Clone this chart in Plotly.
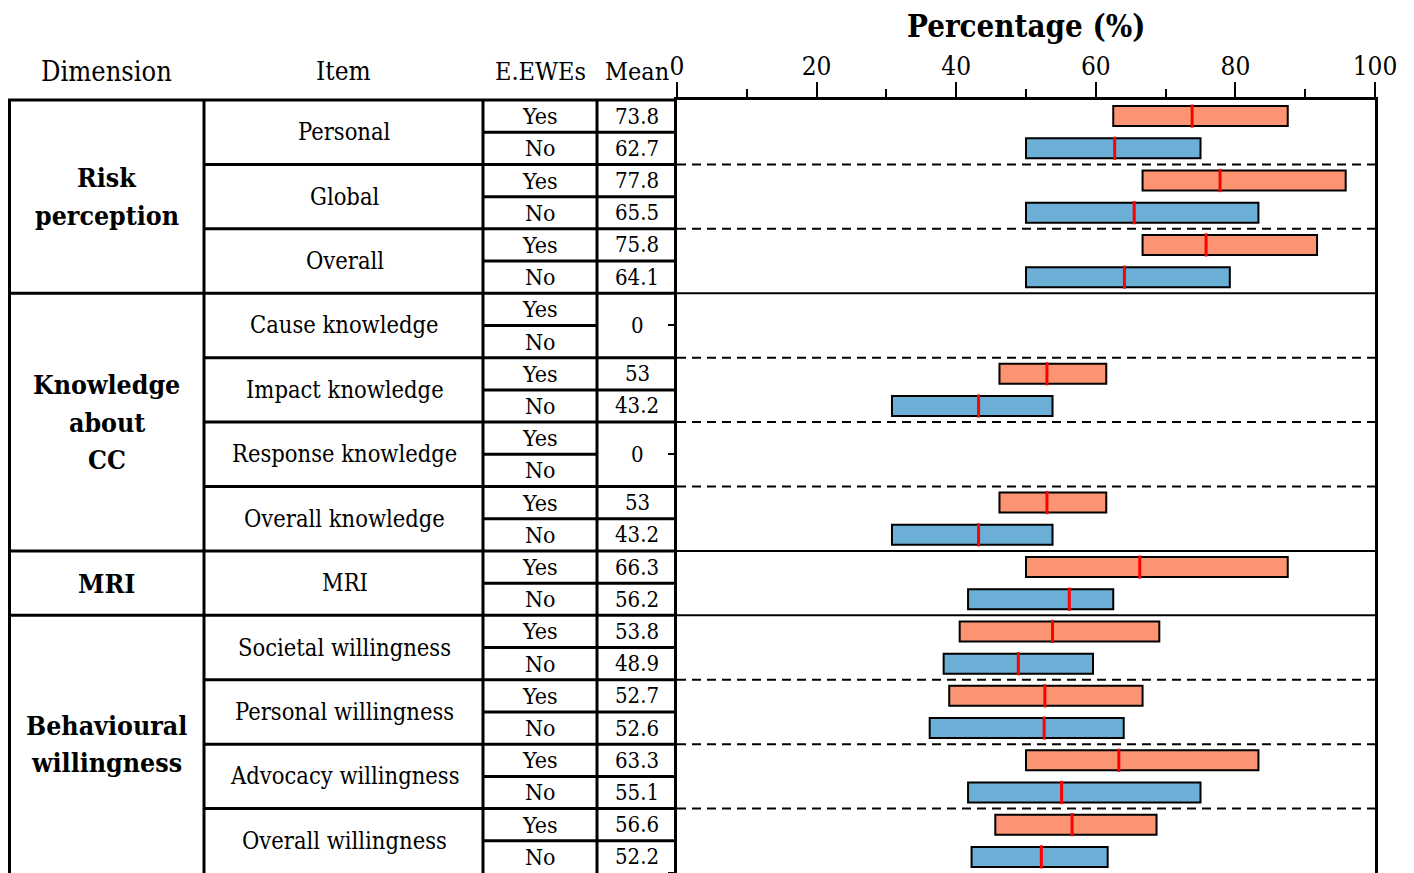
import plotly.graph_objects as go

# ---------------- data ----------------
dimensions = [["Risk", "perception"], ["Knowledge", "about", "CC"], ["MRI"], ["Behavioural", "willingness"]]
dimension_sizes = [3, 4, 1, 4]
items = ["Personal", "Global", "Overall", "Cause knowledge", "Impact knowledge",
         "Response knowledge", "Overall knowledge", "MRI", "Societal willingness",
         "Personal willingness", "Advocacy willingness", "Overall willingness"]
groups = ["Yes", "No"]
mean_yes = [73.8, 77.8, 75.8, 0, 53, 0, 53, 66.3, 53.8, 52.7, 63.3, 56.6]
mean_no = [62.7, 65.5, 64.1, 0, 43.2, 0, 43.2, 56.2, 48.9, 52.6, 55.1, 52.2]
low_yes = [62.5, 66.7, 66.7, None, 46.2, None, 46.2, 50.0, 40.5, 39.0, 50.0, 45.6]
high_yes = [87.5, 95.8, 91.7, None, 61.5, None, 61.5, 87.5, 69.1, 66.7, 83.3, 68.7]
low_no = [50.0, 50.0, 50.0, None, 30.8, None, 30.8, 41.7, 38.2, 36.2, 41.7, 42.2]
high_no = [75.0, 83.3, 79.2, None, 53.8, None, 53.8, 62.5, 59.6, 64.0, 75.0, 61.7]
x_ticks = [0, 20, 40, 60, 80, 100]
headers = ["Dimension", "Item", "E.EWEs", "Mean"]

# ---------------- geometry (page pixels; page has an 8px body margin) ----------------
OFF = 8
W, H = 1414 - OFF, 873 - OFF
TOP = 100
X_LEFT, X_DIM, X_ITEM, X_GRP, X_MEAN, X_RIGHT = 9.5, 204, 483, 597, 677, 1375
FONT = "DejaVu Serif Condensed, Liberation Serif, serif"
n_rows = 2 * len(items)
ROW_PX = (873 - TOP) / n_rows

def px(x):
    return (x - OFF) / W

def py(y):
    return 1 - (y - OFF) / H

YES_C = "#FC9473"
NO_C = "#6BAED6"

fig = go.Figure()

# boxes
for vals_lo, vals_hi, row_off, col in [(low_yes, high_yes, 0, YES_C), (low_no, high_no, 1, NO_C)]:
    ys, bases, lens = [], [], []
    for i, (lo, hi) in enumerate(zip(vals_lo, vals_hi)):
        if lo is None:
            continue
        ys.append(2 * i + row_off)
        bases.append(lo)
        lens.append(hi - lo)
    fig.add_trace(go.Bar(y=ys, x=lens, base=bases, orientation="h", width=0.62,
                         marker=dict(color=col, line=dict(color="black", width=2)),
                         showlegend=False, hoverinfo="skip"))

# mean markers
mx, my = [], []
for i in range(len(items)):
    for off, m in [(0, mean_yes[i]), (1, mean_no[i])]:
        if m == 0:
            continue
        r = 2 * i + off
        mx += [m, m, None]
        my += [r - 0.36, r + 0.36, None]
fig.add_trace(go.Scatter(x=mx, y=my, mode="lines", line=dict(color="#FF0000", width=3),
                         showlegend=False, hoverinfo="skip"))

shapes = []
ann = []

def hline(y, x0, x1, width=3, dash=None):
    ln = dict(color="black", width=width)
    if dash:
        ln["dash"] = dash
    shapes.append(dict(type="line", xref="paper", yref="y", x0=px(x0), x1=px(x1), y0=y, y1=y, line=ln))

# header underline
shapes.append(dict(type="line", xref="paper", yref="paper", x0=px(X_LEFT - 1.5), x1=px(X_MEAN),
                   y0=py(TOP), y1=py(TOP), line=dict(color="black", width=3)))
# vertical table lines
for xv in [X_LEFT, X_DIM, X_ITEM, X_GRP]:
    shapes.append(dict(type="line", xref="paper", yref="paper", x0=px(xv), x1=px(xv),
                       y0=py(TOP), y1=0, line=dict(color="black", width=3)))

# horizontal lines
item_idx = 0
dim_bounds = []
for d, size in enumerate(dimension_sizes):
    start = item_idx
    for k in range(size):
        i = item_idx
        r0 = 2 * i
        if mean_yes[i] == 0 and mean_no[i] == 0:
            hline(r0 + 0.5, X_ITEM, X_GRP, 3)
        else:
            hline(r0 + 0.5, X_ITEM, X_MEAN, 3)
        if k < size - 1:
            hline(r0 + 1.5, X_DIM, X_MEAN, 3)
            hline(r0 + 1.5, X_MEAN, X_RIGHT, 2, "9px,6px")
        item_idx += 1
    end = item_idx
    if d < len(dimension_sizes) - 1:
        hline(2 * end - 0.5, X_LEFT, X_MEAN, 3)
        hline(2 * end - 0.5, X_MEAN, X_RIGHT, 2)
    dim_bounds.append((start, end))

# texts
def cell(x, y, text, size):
    ann.append(dict(x=px(x), y=y, xref="paper", yref="y", text=text, showarrow=False,
                    xanchor="center", yanchor="middle",
                    font=dict(family=FONT, size=size, color="black")))

for i, name in enumerate(items):
    cell((X_DIM + X_ITEM) / 2 + 1, 2 * i + 0.5, name, 23.5)
    for off, g in enumerate(groups):
        cell((X_ITEM + X_GRP) / 2, 2 * i + off, g, 23)
    if mean_yes[i] == 0 and mean_no[i] == 0:
        cell((X_GRP + X_MEAN) / 2, 2 * i + 0.5, "0", 22)
    else:
        for off, m in enumerate([mean_yes[i], mean_no[i]]):
            cell((X_GRP + X_MEAN) / 2, 2 * i + off, f"{m:g}", 22)

LINE_STEP = 37.5 / ROW_PX
for d, (s, e) in enumerate(dim_bounds):
    center = (2 * s + 2 * e - 1) / 2
    lines = dimensions[d]
    for j, txt in enumerate(lines):
        yy = center + (j - (len(lines) - 1) / 2) * LINE_STEP
        cell((X_LEFT + X_DIM) / 2, yy, f"<b>{txt}</b>", 26.5)

hdr_x = [106, 343, 540, 637]
hdr_size = [27, 26, 25, 25]
for h, xh, sz in zip(headers, hdr_x, hdr_size):
    ann.append(dict(x=px(xh), y=py(71), xref="paper", yref="paper", text=h, showarrow=False,
                    xanchor="center", yanchor="middle",
                    font=dict(family=FONT, size=sz, color="black")))

ann.append(dict(x=px(1026), y=py(26), xref="paper", yref="paper", text="<b>Percentage (%)</b>",
                showarrow=False, xanchor="center", yanchor="middle",
                font=dict(family=FONT, size=31, color="black")))

fig.update_layout(
    width=W, height=H,
    margin=dict(l=0, r=0, t=0, b=0, autoexpand=False),
    paper_bgcolor="white", plot_bgcolor="white",
    shapes=shapes, annotations=ann, showlegend=False,
    barmode="overlay",
    xaxis=dict(domain=[px(X_MEAN), px(X_RIGHT)], range=[0, 100], side="top",
               tickvals=x_ticks, ticks="outside", ticklen=15, tickwidth=2, tickcolor="black",
               ticklabelstandoff=-3,
               minor=dict(dtick=10, tick0=0, ticks="outside", ticklen=8, tickwidth=2, tickcolor="black"),
               showline=True, linecolor="black", linewidth=3, mirror=True,
               showgrid=False, zeroline=False, automargin=False,
               tickfont=dict(family=FONT, size=26, color="black")),
    yaxis=dict(domain=[0, py(TOP)], range=[n_rows - 0.5, -0.5],
               tickvals=[r - 0.5 for r in range(n_rows + 1)], ticktext=[""] * (n_rows + 1),
               ticks="outside", ticklen=6, tickwidth=2, tickcolor="black",
               showline=True, linecolor="black", linewidth=3, mirror=True,
               showgrid=False, zeroline=False, automargin=False),
)

fig.write_html("out.html")
